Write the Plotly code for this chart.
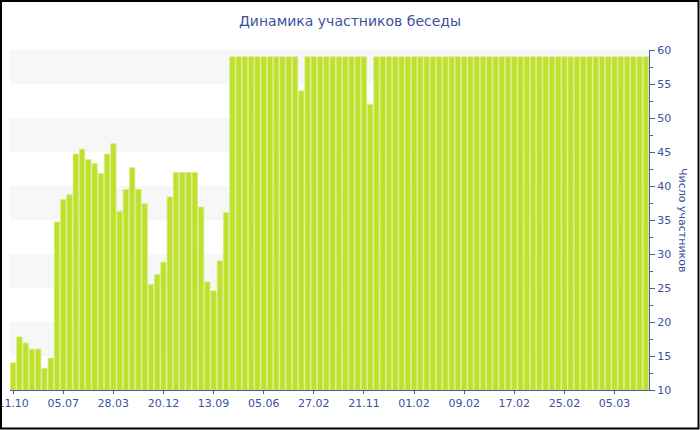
import plotly.graph_objects as go

# ---- data ----
early_values = [14.0, 17.8, 16.9, 16.0, 16.0, 13.2, 14.7, 34.7, 38.0, 38.7,
                44.7, 45.4, 43.9, 43.3, 41.8, 44.7, 46.2, 36.3, 39.5, 42.7,
                39.5, 37.4, 25.5, 27.0, 28.8, 38.4, 42.0, 42.0, 42.0, 42.0,
                36.9, 25.9, 24.6, 29.0, 36.1]
late_values = [59, 59, 59, 59, 59, 59, 59, 59, 59, 59, 59, 54, 59, 59, 59,
               59, 59, 59, 59, 59, 59, 59, 52, 59, 59, 59, 59, 59, 59, 59,
               59, 59, 59, 59, 59, 59, 59, 59, 59, 59, 59, 59, 59, 59, 59,
               59, 59, 59, 59, 59, 59, 59, 59, 59, 59, 59, 59, 59, 59, 59,
               59, 59, 59, 59, 59, 59, 59]
values = early_values + late_values
tick_labels = ["11.10", "05.07", "28.03", "20.12", "13.09", "05.06", "27.02",
               "21.11", "01.02", "09.02", "17.02", "25.02", "05.03"]
tick_step = 8
band_ranges = [(15, 20), (25, 30), (35, 40), (45, 50), (55, 60)]

title_text = "Динамика участников беседы"
y_title = "Число участников"

# ---- layout constants ----
W, H = 700, 430
ML, MR, MT, MB = 10, 51, 50, 40
blue = "#3d519c"
axis_blue = "#4a5ea8"
font_family = "DejaVu Sans"

x = list(range(len(values)))
tickvals = [i * tick_step for i in range(len(tick_labels))]

fig = go.Figure()
fig.add_trace(go.Bar(
    x=x, y=values,
    marker=dict(color="#bfe12e", line=dict(color="#d6ec80", width=0.8)),
    hoverinfo="y",
))

shapes = []
for lo, hi in band_ranges:
    shapes.append(dict(type="rect", xref="paper", yref="y", x0=0, x1=1,
                       y0=lo, y1=hi, fillcolor="#f7f7f7", line=dict(width=0),
                       layer="below"))

pw = W - ML - MR
ph = H - MT - MB
shapes.append(dict(type="rect", xref="paper", yref="paper",
                   x0=(-ML + 1) / pw, x1=(pw + MR - 1.5) / pw,
                   y0=(-MB + 1.5) / ph, y1=(ph + MT - 1) / ph,
                   line=dict(color="black", width=2), fillcolor="rgba(0,0,0,0)",
                   layer="above"))

fig.update_layout(
    width=W, height=H,
    margin=dict(l=ML, r=MR, t=MT, b=MB, pad=0, autoexpand=False),
    paper_bgcolor="white", plot_bgcolor="white",
    bargap=0.14,
    showlegend=False,
    font=dict(family=font_family, size=11, color=blue),
    title=dict(text=title_text, x=0.5, xref="container", y=0.95, yref="container",
               xanchor="center", yanchor="middle",
               font=dict(family=font_family, size=14, color=blue)),
    shapes=shapes,
    xaxis=dict(range=[-0.5, len(values) - 0.5], tickmode="array",
               tickvals=tickvals, ticktext=tick_labels,
               showline=True, linecolor=axis_blue, linewidth=1,
               ticks="outside", ticklen=3, tickcolor=axis_blue,
               ticklabeloverflow="allow", automargin=False,
               showgrid=False, zeroline=False,
               tickfont=dict(family=font_family, size=11, color=blue)),
    yaxis=dict(range=[10, 60], side="right", dtick=5, tick0=10,
               showline=True, linecolor=axis_blue, linewidth=1,
               ticks="outside", ticklen=5, tickcolor=axis_blue,
               minor=dict(ticks="outside", dtick=2.5, ticklen=3, tickcolor=axis_blue),
               showgrid=False, zeroline=False, automargin=False,
               tickfont=dict(family=font_family, size=11, color=blue)),
    annotations=[dict(text=y_title, textangle=90, xref="paper", yref="paper",
                      x=(683 - ML) / pw, y=(H - MB - 220) / ph,
                      xanchor="center", yanchor="middle", showarrow=False,
                      font=dict(family=font_family, size=11, color=blue))],
)

fig.write_html("out.html", config={"displayModeBar": False},
               post_script="document.body.style.margin='0';document.body.style.overflow='hidden';")
